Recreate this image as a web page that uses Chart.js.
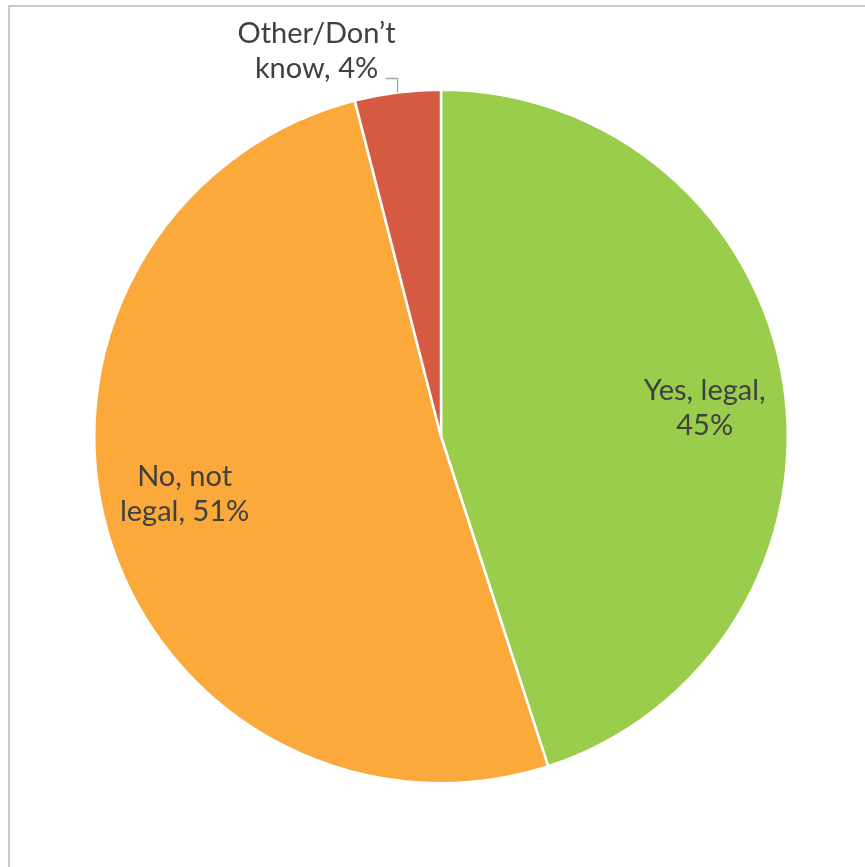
<!DOCTYPE html>
<html>
<head>
<meta charset="utf-8">
<script src="https://cdn.jsdelivr.net/npm/chart.js@4/dist/chart.umd.min.js"></script>
<style>
  html, body { margin: 0; padding: 0; background: #fff; }
  #wrap { position: relative; width: 865px; height: 867px; }
  #frame {
    position: absolute; left: 8px; top: 5px; right: -10px; bottom: -10px;
    border-left: 2px solid #c9c9c9; border-top: 2px solid #c9c9c9;
  }
  canvas { position: absolute; left: 0; top: 0; }
</style>
</head>
<body>
<div id="wrap">
  <div id="frame"></div>
  <canvas id="pie" width="865" height="867"></canvas>
</div>
<script>
// answers to the poll, clockwise from 12 o'clock
const categories = ["Yes, legal", "No, not legal", "Other/Don’t know"];
const shares = [45, 51, 4];
const sliceColors = ["#9bcd4c", "#fba93b", "#d55a41"];
// how each label wraps, as in the original
const labelLines = [
  ["Yes, legal,", "45%"],
  ["No, not", "legal, 51%"],
  ["Other/Don’t", "know, 4%"],
];

const LABEL_FONT = "29px Lato, 'Open Sans', sans-serif";
const LABEL_COLOR = "#404040";
const LINE_GAP = 35;

// draws the data labels; the small one sits outside with a leader line
const sliceLabels = {
  id: "sliceLabels",
  afterDatasetsDraw(chart) {
    const ctx = chart.ctx;
    const arcs = chart.getDatasetMeta(0).data;
    ctx.save();
    ctx.font = LABEL_FONT;
    ctx.fillStyle = LABEL_COLOR;
    ctx.textAlign = "center";
    ctx.textBaseline = "alphabetic";
    arcs.forEach((arc, i) => {
      const { x, y, startAngle, endAngle, outerRadius } = arc.getProps(
        ["x", "y", "startAngle", "endAngle", "outerRadius"], true);
      const mid = (startAngle + endAngle) / 2;
      const lines = labelLines[i];
      if (shares[i] < 10) {
        // outside label + leader
        const ex = x + Math.cos(mid) * outerRadius;
        const ey = y + Math.sin(mid) * outerRadius;
        ctx.strokeStyle = "#a6a6a6";
        ctx.lineWidth = 1.3;
        ctx.beginPath();
        ctx.moveTo(ex, ey);
        ctx.lineTo(ex, ey - 14);
        ctx.lineTo(ex - 12, ey - 14);
        ctx.stroke();
        const cx = ex - 81;
        const base = ey - 14;
        ctx.fillText(lines[1], cx, base);
        ctx.fillText(lines[0], cx, base - LINE_GAP);
      } else {
        const r = outerRadius * 0.77;
        const cx = x + Math.cos(mid) * r;
        const cy = y + Math.sin(mid) * r + (i === 0 ? 11 : -19);
        const firstBase = cy - 6;
        ctx.fillText(lines[0], cx, firstBase);
        ctx.fillText(lines[1], cx, firstBase + LINE_GAP);
      }
    });
    ctx.restore();
  },
};

new Chart(document.getElementById("pie"), {
  type: "pie",
  data: {
    labels: categories,
    datasets: [{
      data: shares,
      backgroundColor: sliceColors,
      borderColor: "#ffffff",
      borderWidth: 2.5,
      hoverOffset: 0,
    }],
  },
  options: {
    responsive: false,
    animation: false,
    rotation: 0,
    layout: { padding: { left: 93, right: 76, top: 88, bottom: 82 } },
    plugins: {
      legend: { display: false },
      tooltip: { enabled: false },
    },
  },
  plugins: [sliceLabels],
});
</script>
</body>
</html>
